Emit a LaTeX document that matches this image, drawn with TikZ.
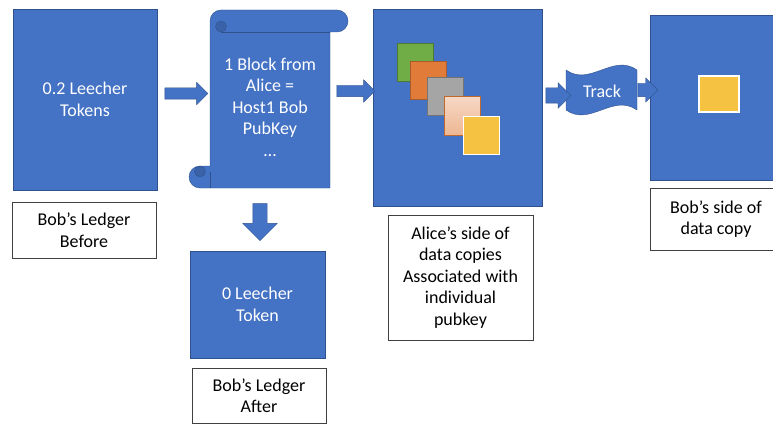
\documentclass[tikz,border=0pt]{standalone}
\usepackage{fontspec}
\setmainfont{Carlito}
\usetikzlibrary{shapes.arrows}

\definecolor{boxblue}{HTML}{4472C4}
\definecolor{boxline}{HTML}{2F528F}
\definecolor{scrolldark}{HTML}{3A62A8}
\definecolor{copygreen}{HTML}{70AD47}
\definecolor{copyorange}{HTML}{E07B39}
\definecolor{copygray}{HTML}{A5A5A5}
\definecolor{copygold}{HTML}{F5C242}

\begin{document}
\begin{tikzpicture}[x=1pt, y=-1pt,
	every node/.style	= {font=\fontsize{18}{21.5}\selectfont, align=center},
	ledger/.style		= {rectangle, draw=boxline, fill=boxblue, text=white, inner sep=0pt},
	note/.style		= {rectangle, draw=black!75, fill=white, inner sep=0pt},
	blockarrow/.style	= {single arrow, draw=boxline, fill=boxblue, inner sep=5.5pt, single arrow head extend=5.5pt, minimum width=22pt},
	datacopy/.style		= {rectangle, inner sep=0pt, minimum width=36pt, minimum height=38pt, line width=1pt}]
	\clip (0,0) rectangle (773,425);
	% ledger before
	\node (tok1)	at ( 85, 99.5)	[ledger, minimum width=144pt, minimum height=181pt]	{0.2 Leecher\\Tokens};
	\node (before)	at ( 84,230)	[note, minimum width=144pt, minimum height=56pt]	{Bob’s Ledger\\Before};
	% block scroll
	\path[draw=boxline, fill=boxblue] (221,10) -- (337,10) arc[start angle=270, end angle=450, radius=11] -- (330,32) -- (330,188) -- (200,188) arc[start angle=90, end angle=270, radius=11] -- (210,166) -- (210,21) arc[start angle=180, end angle=270, radius=11] -- cycle;
	\draw[boxline] (221,32) -- (330,32);
	\draw[boxline, fill=scrolldark] (221,26.5) circle[radius=5.5];
	\draw[boxline] (210,171.5) -- (210,188);
	\draw[boxline, fill=scrolldark] (200,171.5) circle[radius=5.5];
	\node (blk)	at (270,107)	[text=white]	{1 Block from\\Alice =\\Host1 Bob\\PubKey\\\dots};
	% ledger after
	\node (tok0)	at (257.5,304.5)	[ledger, minimum width=135pt, minimum height=107pt]	{0 Leecher\\Token};
	\node (after)	at (259,395.5)	[note, minimum width=134pt, minimum height=55pt]	{Bob’s Ledger\\After};
	% alice side
	\node (alice)	at (457.5,107.5)	[ledger, minimum width=169pt, minimum height=197pt]	{};
	\node (c1)	at (415, 62.5)	[datacopy, draw=copygreen!70!black, fill=copygreen]	{};
	\node (c2)	at (428, 81)	[datacopy, draw=copyorange!75!black, fill=copyorange]	{};
	\node (c3)	at (445.5, 96.5)	[datacopy, draw=copygray!70!black, fill=copygray]	{};
	\node (c4)	at (462,116)	[datacopy, draw=copyorange!85!black, top color=copyorange!30, bottom color=copyorange!55]	{};
	\node (c5)	at (481.5,135.5)	[datacopy, draw=white, fill=copygold, line width=1.5pt]	{};
	\node (alicenote)	at (460.5,277.5)	[note, minimum width=145pt, minimum height=125pt]	{Alice’s side of\\data copies\\Associated with\\individual\\pubkey};
	% track
	\path[draw=boxline, fill=boxblue] (566,70) .. controls (590,87) and (613,53) .. (637,70) -- (637,110) .. controls (613,93) and (590,127) .. (566,110) -- cycle;
	\node (track)	at (602,91)	[text=white]	{Track};
	% bob side
	\node (bob)	at (720,97.5)	[ledger, minimum width=140pt, minimum height=165pt]	{};
	\node (c6)	at (719,94)	[datacopy, minimum width=40pt, minimum height=36pt, draw=white, fill=copygold, line width=1.5pt]	{};
	\node (bobnote)	at (716,219)	[note, minimum width=132pt, minimum height=62pt]	{Bob’s side of\\data copy};
	% arrows
	\node (a1)	at (183.5, 93.5)	[blockarrow, minimum height=43pt]	{};
	\node (a2)	at (353, 91)	[blockarrow, minimum height=38pt]	{};
	\node (a3)	at (260,218.5)	[blockarrow, shape border rotate=270, inner sep=7pt, minimum height=37pt, minimum width=34pt, single arrow head extend=10pt]	{};
	\node (a4)	at (554.5, 95.5)	[blockarrow, inner sep=7.5pt, minimum height=25pt, minimum width=25pt, single arrow head extend=5pt]	{};
	\node (a5)	at (644.5, 90)	[blockarrow, inner sep=6.5pt, minimum height=15pt, minimum width=24pt, single arrow head extend=5.5pt]	{};
\end{tikzpicture}
\end{document}
